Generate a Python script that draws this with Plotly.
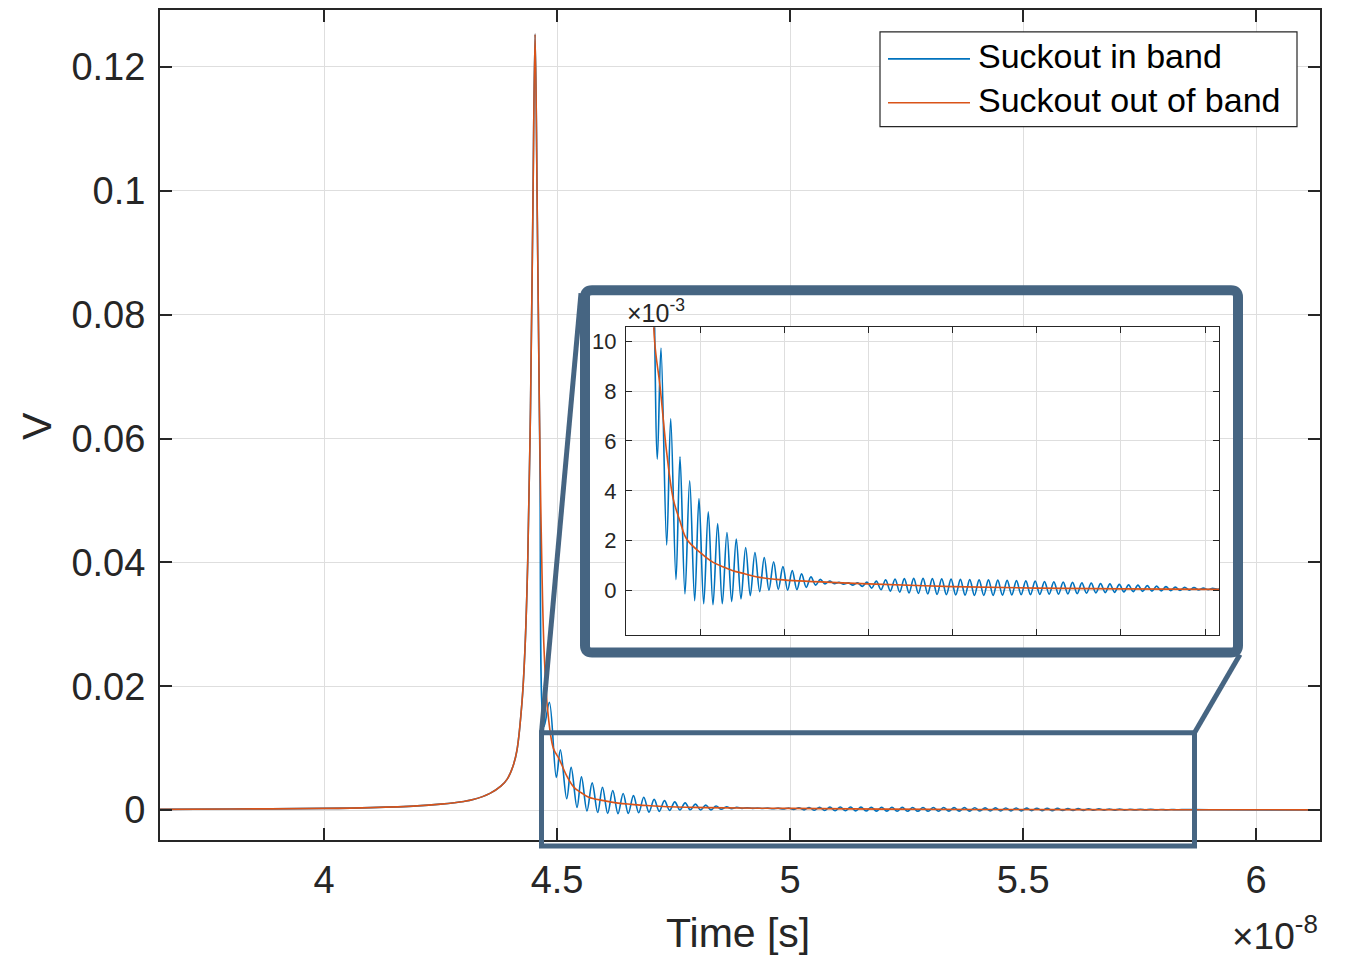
import plotly.graph_objects as go

# ---- data: time in ns, voltage in V ----
# leading edge and main pulse (shared by both traces)
t_rise = [36.48, 38.0, 40.0, 41.0, 42.0, 42.5, 43.0, 43.2, 43.56, 43.8, 43.93,
          44.05, 44.14, 44.25, 44.31, 44.37, 44.43, 44.478, 44.528]
v_rise = [0.00012, 0.00017, 0.00027, 0.00040, 0.00068, 0.00097, 0.0014, 0.0017,
          0.0027, 0.0039, 0.0050, 0.0070, 0.0097, 0.0177, 0.0258, 0.040, 0.065,
          0.095, 0.1253]

# tail of the response with the suckout out of band
t_out = [44.577, 44.62, 44.66, 44.72, 44.80, 44.92, 45.048, 45.207, 45.363,
         45.52, 45.68, 46.00, 46.31, 46.60, 46.78, 47.00, 47.42, 47.80, 48.21,
         50.0, 52.0, 54.0, 56.0, 58.3, 61.37]
v_out = [0.095, 0.065, 0.045, 0.026, 0.016, 0.0100, 0.0082, 0.00553, 0.00367,
         0.0028, 0.00207, 0.00153, 0.00113, 0.00092, 0.00080, 0.00070, 0.00053,
         0.00045, 0.00040, 0.00027, 0.00016, 0.00010, 0.00007, 0.00005, 0.00004]

# tail of the response with the suckout in band (ringing extrema)
t_in = [44.577, 44.63, 44.72, 44.835, 44.984, 45.071, 45.207, 45.302, 45.428,
        45.523, 45.641, 45.753, 45.872, 45.974, 46.086, 46.195, 46.307, 46.418,
        46.528, 46.639, 46.751, 46.860, 46.972, 47.083, 47.193, 47.304, 47.416,
        47.525, 47.637, 47.748, 47.858, 47.969, 48.081, 48.190, 48.301, 48.412,
        48.523, 48.634, 48.745, 48.856, 48.967, 49.078, 49.189, 49.300, 49.411,
        49.522, 49.633, 49.744, 49.855, 49.966, 50.077, 50.188, 50.299, 50.410,
        50.521, 50.632, 50.743, 50.854, 50.965, 51.076, 51.187, 51.298, 51.409,
        51.520, 51.631, 51.742, 51.853, 51.964, 52.075, 52.186, 52.297, 52.408,
        52.519, 52.630, 52.741, 52.852, 52.963, 53.074, 53.185, 53.296, 53.407,
        53.518, 53.629, 53.740, 53.851, 53.962, 54.073, 54.184, 54.295, 54.406,
        54.517, 54.628, 54.739, 54.850, 54.961, 55.072, 55.183, 55.294, 55.405,
        55.516, 55.627, 55.738, 55.849, 55.960, 56.071, 56.182, 56.293, 56.404,
        56.515, 56.626, 56.737, 56.848, 56.959, 57.070, 57.181, 57.292, 57.403,
        57.514, 57.625, 57.736, 57.847, 57.958, 58.069, 58.180, 58.291, 58.402,
        59.0, 61.37]
v_in = [0.095, 0.058, 0.0135, 0.0174, 0.00527, 0.00973, 0.00183, 0.00689,
        0.00044, 0.00537, -0.00013, 0.00440, -0.00040, 0.00369, -0.00053,
        0.00316, -0.00057, 0.00269, -0.00053, 0.00233, -0.00044, 0.00207,
        -0.00033, 0.00173, -0.00020, 0.00153, -0.00004, 0.00133, 0.00002,
        0.00116, 0.00005, 0.00096, 0.00002, 0.00080, 0.00004, 0.00067, 0.00013,
        0.00055, 0.00022, 0.00045, 0.00027, 0.00038, 0.00028, 0.00033, 0.00026,
        0.00031, 0.00022, 0.00031, 0.00017, 0.00034, 0.00010, 0.00038, 0.00004,
        0.00043, -0.00002, 0.00046, -0.00006, 0.00048, -0.00009, 0.00049,
        -0.00011, 0.00049, -0.00013, 0.00048, -0.00015, 0.00047, -0.00016,
        0.00046, -0.00017, 0.00045, -0.00018, 0.00044, -0.00019, 0.00043,
        -0.00019, 0.00043, -0.00019, 0.00042, -0.00018, 0.00041, -0.00017,
        0.00040, -0.00016, 0.00039, -0.00016, 0.00038, -0.00015, 0.00036,
        -0.00014, 0.00035, -0.00014, 0.00034, -0.00013, 0.00033, -0.00012,
        0.00031, -0.00010, 0.00030, -0.00009, 0.00028, -0.00008, 0.00027,
        -0.00007, 0.00025, -0.00005, 0.00023, -0.00004, 0.00022, -0.00003,
        0.00020, -0.00002, 0.00018, -0.00001, 0.00016, 0.00000, 0.00014,
        0.00001, 0.00013, 0.00002, 0.00012, 0.00003, 0.00010, 0.00004, 0.00009,
        0.00005, 0.00008, 0.000045, 0.00004]

series_names = ["Suckout in band", "Suckout out of band"]
x_ticks = [4, 4.5, 5, 5.5, 6]
x_ticktext = ["4", "4.5", "5", "5.5", "6"]
y_ticks = [0, 0.02, 0.04, 0.06, 0.08, 0.1, 0.12]
y_ticktext = ["0", "0.02", "0.04", "0.06", "0.08", "0.1", "0.12"]
inset_xticks = [4.6, 4.8, 5.0, 5.2, 5.4, 5.6, 5.8]
inset_yticks = [0, 2, 4, 6, 8, 10]

BLUE = "#0072BD"
ORANGE = "#D95319"
AX = "#262626"
GRID = "#dedede"
ZOOMC = "#466582"
FONT = "Liberation Sans, Arial, sans-serif"

W, H = 1345, 957
L, R, T, B = 160, 25, 8, 117


def px(x):
    return (x - L) / (W - L - R)


def py(y):
    return (H - B - y) / (H - T - B)


# time axis in units of 1e-8 s
in_x = [t / 10 for t in t_rise + t_in]
in_y = v_rise + v_in
out_x = [t / 10 for t in t_rise + t_out]
out_y = v_rise + v_out

LW = 1.6

fig = go.Figure()

# main axes
fig.add_trace(go.Scatter(x=in_x, y=in_y, mode="lines", name=series_names[0],
                         line=dict(color=BLUE, width=LW, shape="spline", smoothing=1),
                         xaxis="x", yaxis="y", hoverinfo="skip"))
fig.add_trace(go.Scatter(x=out_x, y=out_y, mode="lines", name=series_names[1],
                         line=dict(color=ORANGE, width=LW, shape="spline", smoothing=1),
                         xaxis="x", yaxis="y", hoverinfo="skip"))

# white backing for the inset axes
fig.add_trace(go.Scatter(x=[0, 1, 1, 0, 0], y=[0, 0, 1, 1, 0], mode="lines",
                         fill="toself", fillcolor="white", line=dict(width=0, color="white"),
                         xaxis="x2", yaxis="y2", hoverinfo="skip", showlegend=False))

# inset axes (values in mV)
fig.add_trace(go.Scatter(x=in_x, y=[v * 1e3 for v in in_y], mode="lines",
                         line=dict(color=BLUE, width=LW, shape="spline", smoothing=1),
                         xaxis="x3", yaxis="y3", hoverinfo="skip", showlegend=False))
fig.add_trace(go.Scatter(x=out_x, y=[v * 1e3 for v in out_y], mode="lines",
                         line=dict(color=ORANGE, width=LW, shape="spline", smoothing=1),
                         xaxis="x3", yaxis="y3", hoverinfo="skip", showlegend=False))

ix0, ix1 = px(626), px(1219)
iy0, iy1 = py(635), py(326)

axis_common = dict(showline=True, linecolor=AX, linewidth=2, mirror="ticks",
                   ticks="inside", tickcolor=AX, tickwidth=1.5, ticklen=12,
                   showgrid=True, gridcolor=GRID, gridwidth=1, zeroline=False,
                   tickfont=dict(family=FONT, size=38, color=AX))

fig.update_layout(
    width=W, height=H,
    margin=dict(l=L, r=R, t=T, b=B),
    paper_bgcolor="white", plot_bgcolor="white",
    showlegend=False,
    xaxis=dict(range=[3.648, 6.137], tickvals=x_ticks, ticktext=x_ticktext,
               ticklabelstandoff=5, **axis_common),
    yaxis=dict(range=[-0.00483, 0.1292], tickvals=y_ticks, ticktext=y_ticktext,
               ticklabelstandoff=5, **axis_common),
    xaxis2=dict(domain=[ix0, ix1], range=[0, 1], visible=False, anchor="y2"),
    yaxis2=dict(domain=[iy0, iy1], range=[0, 1], visible=False, anchor="x2"),
    xaxis3=dict(domain=[ix0, ix1], range=[4.424, 5.833], tickvals=inset_xticks,
                showticklabels=False, anchor="y3",
                showline=True, linecolor=AX, linewidth=1.3, mirror="ticks",
                ticks="inside", tickcolor=AX, tickwidth=1.2, ticklen=6,
                showgrid=True, gridcolor=GRID, zeroline=False),
    yaxis3=dict(domain=[iy0, iy1], range=[-1.8, 10.56], tickvals=inset_yticks,
                anchor="x3",
                showline=True, linecolor=AX, linewidth=1.3, mirror="ticks",
                ticks="inside", tickcolor=AX, tickwidth=1.2, ticklen=6,
                showgrid=True, gridcolor=GRID, zeroline=False,
                ticklabelstandoff=4,
                tickfont=dict(family=FONT, size=22, color=AX)),
)

shapes = []
# zoom region marker on the main axes
shapes.append(dict(type="rect", xref="paper", yref="paper",
                   x0=px(541.5), x1=px(1194.5), y0=py(846), y1=py(732.5),
                   line=dict(color=ZOOMC, width=5), layer="above"))
# connectors to the inset frame
shapes.append(dict(type="line", xref="paper", yref="paper",
                   x0=px(541.5), y0=py(732.5), x1=px(581), y1=py(292),
                   line=dict(color=ZOOMC, width=5), layer="above"))
shapes.append(dict(type="line", xref="paper", yref="paper",
                   x0=px(1194.5), y0=py(732.5), x1=px(1240), y1=py(654),
                   line=dict(color=ZOOMC, width=5), layer="above"))
# inset frame with rounded corners
fx0, fx1, fy0, fy1, rr = 585, 1238, 289, 652, 7
pts = [
    f"M {px(fx0 + rr)},{py(fy0)}",
    f"L {px(fx1 - rr)},{py(fy0)}",
    f"Q {px(fx1)},{py(fy0)} {px(fx1)},{py(fy0 + rr)}",
    f"L {px(fx1)},{py(fy1 - rr)}",
    f"Q {px(fx1)},{py(fy1)} {px(fx1 - rr)},{py(fy1)}",
    f"L {px(fx0 + rr)},{py(fy1)}",
    f"Q {px(fx0)},{py(fy1)} {px(fx0)},{py(fy1 - rr)}",
    f"L {px(fx0)},{py(fy0 + rr)}",
    f"Q {px(fx0)},{py(fy0)} {px(fx0 + rr)},{py(fy0)}",
    "Z",
]
shapes.append(dict(type="path", xref="paper", yref="paper", path=" ".join(pts),
                   line=dict(color=ZOOMC, width=10), layer="above"))

# legend box
shapes.append(dict(type="rect", xref="paper", yref="paper",
                   x0=px(880), x1=px(1297), y0=py(125), y1=py(30),
                   fillcolor="white", line=dict(color=AX, width=1.2), layer="above"))
shapes.append(dict(type="line", xref="paper", yref="paper",
                   x0=px(888), x1=px(970), y0=py(57), y1=py(57),
                   line=dict(color=BLUE, width=LW), layer="above"))
shapes.append(dict(type="line", xref="paper", yref="paper",
                   x0=px(888), x1=px(970), y0=py(101), y1=py(101),
                   line=dict(color=ORANGE, width=LW), layer="above"))

annotations = [
    dict(text=series_names[0], x=px(976), y=py(54), xref="paper", yref="paper",
         xanchor="left", yanchor="middle", showarrow=False,
         font=dict(family=FONT, size=34, color="black")),
    dict(text=series_names[1], x=px(976), y=py(98), xref="paper", yref="paper",
         xanchor="left", yanchor="middle", showarrow=False,
         font=dict(family=FONT, size=34, color="black")),
    dict(text="Time [s]", x=px(738), y=py(933), xref="paper", yref="paper",
         xanchor="center", yanchor="middle", showarrow=False,
         font=dict(family=FONT, size=41, color=AX)),
    dict(text="V", x=px(37), y=py(425), xref="paper", yref="paper",
         xanchor="center", yanchor="middle", showarrow=False, textangle=-90,
         font=dict(family=FONT, size=41, color=AX)),
    dict(text="×10<sup>-8</sup>", x=px(1320), y=py(934), xref="paper", yref="paper",
         xanchor="right", yanchor="middle", showarrow=False,
         font=dict(family=FONT, size=37, color=AX)),
    dict(text="×10<sup>-3</sup>", x=px(625), y=py(310), xref="paper", yref="paper",
         xanchor="left", yanchor="middle", showarrow=False,
         font=dict(family=FONT, size=25, color=AX)),
]

fig.update_layout(shapes=shapes, annotations=annotations)

fig.write_html("out.html")
